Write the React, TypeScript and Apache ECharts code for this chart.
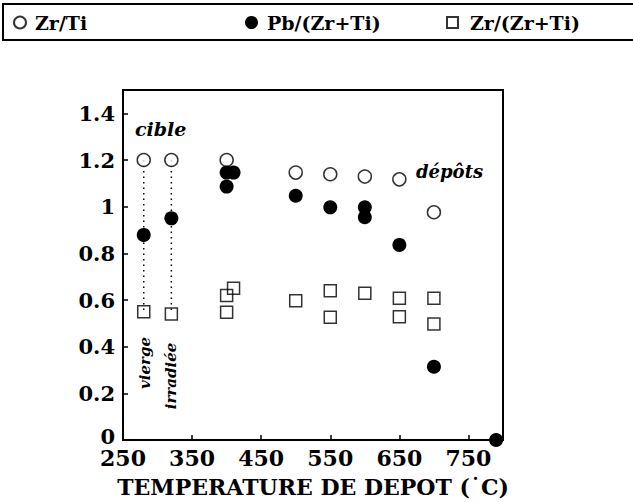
import React, { useEffect, useRef } from "react";
import * as echarts from "echarts";

const zrTi: [number, number][] = [
  [280, 1.2], [320, 1.2], [400, 1.2], [500, 1.146], [550, 1.139], [600, 1.129], [650, 1.117], [700, 0.976],
];
const pbZrTi: [number, number][] = [
  [280, 0.879], [320, 0.95], [400, 1.086], [400, 1.146], [410, 1.146], [500, 1.047], [550, 0.997],
  [600, 0.997], [600, 0.955], [650, 0.836], [700, 0.314], [790, 0],
];
const zrZrTi: [number, number][] = [
  [280, 0.55], [320, 0.54], [400, 0.547], [400, 0.619], [410, 0.65], [500, 0.597], [550, 0.64],
  [550, 0.526], [600, 0.629], [650, 0.607], [650, 0.528], [700, 0.607], [700, 0.497],
];
const dottedLines: [number, number][][] = [
  [[280, 1.2], [280, 0.55]],
  [[320, 1.2], [320, 0.54]],
];
const xTitle = "TEMPERATURE DE DEPOT (\u02D9C)";

const SERIF = "'DejaVu Serif', 'Liberation Serif', serif";

export default function App() {
  const ref = useRef<HTMLDivElement>(null);
  useEffect(() => {
    if (!ref.current) return;
    const chart = echarts.init(ref.current, undefined, { renderer: "svg" });
    const legendText = { fontFamily: SERIF, fontWeight: "bold" as const, fontSize: 19, color: "#000", padding: [0, 0, 0, 4] };
    const labelFont = { fontFamily: SERIF, fontWeight: "bold" as const, fontSize: 21, color: "#000" };
    chart.setOption({
      animation: false,
      backgroundColor: "#fff",
      grid: {
        left: 123, right: 130, top: 90, bottom: 62,
        outerBoundsMode: "none", containLabel: false,
        show: true, borderColor: "#000", borderWidth: 2,
      },
      legend: [
        { data: ["Zr/Ti"], left: 8, top: 8, itemWidth: 12, itemHeight: 12, textStyle: legendText, selectedMode: false },
        { data: ["Pb/(Zr+Ti)"], left: 240, top: 8, itemWidth: 13, itemHeight: 13, textStyle: legendText, selectedMode: false },
        { data: ["Zr/(Zr+Ti)"], left: 441, top: 8, itemWidth: 11, itemHeight: 11, textStyle: { ...legendText, padding: [0, 0, 0, 7] }, selectedMode: false },
      ],
      xAxis: {
        type: "value", min: 250, max: 800, interval: 100,
        name: xTitle, nameLocation: "middle", nameGap: 37, nameMoveOverlap: false,
        nameTextStyle: { fontFamily: SERIF, fontWeight: "bold", fontSize: 22, lineHeight: 20, color: "#000" },
        axisLine: { lineStyle: { color: "#000", width: 2 } },
        axisTick: { inside: true, length: 5, lineStyle: { color: "#000", width: 1.5 } },
        axisLabel: { showMaxLabel: false, fontFamily: SERIF, fontWeight: "bold", fontSize: 22, lineHeight: 16, color: "#000", margin: 10 },
        splitLine: { show: false },
      },
      yAxis: {
        type: "value", min: 0, max: 1.5, interval: 0.2,
        axisLine: { lineStyle: { color: "#000", width: 2 } },
        axisTick: { inside: true, length: 5, lineStyle: { color: "#000", width: 1.5 } },
        axisLabel: {
          showMaxLabel: false, ...labelFont, lineHeight: 12, margin: 8,
          formatter: (v: number) => (v === 0 ? "{z|0}" : String(Math.round(v * 10) / 10)),
          rich: { z: { ...labelFont, lineHeight: 12, padding: [0, 0, 8, 0] } },
        },
        splitLine: { show: false },
      },
      series: [
        ...dottedLines.map((d, i) => ({
          type: "line", name: "dot" + i, data: d, symbol: "none",
          lineStyle: { color: "#000", width: 1.5, type: [1.5, 4] },
          z: 1,
        })),
        {
          type: "scatter", name: "Zr/Ti", data: zrTi, symbol: "circle", symbolSize: 13, clip: false,
          itemStyle: { color: "#fff", borderColor: "#000", borderWidth: 1.5 }, z: 3,
        },
        {
          type: "scatter", name: "Pb/(Zr+Ti)", data: pbZrTi, symbol: "circle", symbolSize: 14, clip: false,
          itemStyle: { color: "#000", borderColor: "#000", borderWidth: 0, opacity: 1 }, z: 3,
        },
        {
          type: "scatter", name: "Zr/(Zr+Ti)", data: zrZrTi, symbol: "rect", symbolSize: 12, clip: false,
          itemStyle: { color: "rgba(255,255,255,0)", borderColor: "#000", borderWidth: 1.5 }, z: 3,
        },
      ],
      graphic: [
        { type: "rect", shape: { x: 3, y: 4, width: 700, height: 36 }, style: { fill: "none", stroke: "#000", lineWidth: 2 }, silent: true },
        { type: "text", x: 135, y: 119, style: { text: "cible", font: `italic bold 19px ${SERIF}`, fill: "#000" } },
        { type: "text", x: 416, y: 162, style: { text: "d\u00e9p\u00f4ts", font: `italic bold 18px ${SERIF}`, fill: "#000" } },
        { type: "text", x: 145, y: 363, rotation: Math.PI / 2, style: { text: "vierge", font: `italic bold 15px ${SERIF}`, fill: "#000", align: "center", verticalAlign: "middle" } },
        { type: "text", x: 171, y: 376, rotation: Math.PI / 2, style: { text: "irradi\u00e9e", font: `italic bold 15px ${SERIF}`, fill: "#000", align: "center", verticalAlign: "middle" } },
      ],
    });
    return () => chart.dispose();
  }, []);
  return <div ref={ref} style={{ width: 633, height: 502, position: "absolute", left: 0, top: 0 }} />;
}
